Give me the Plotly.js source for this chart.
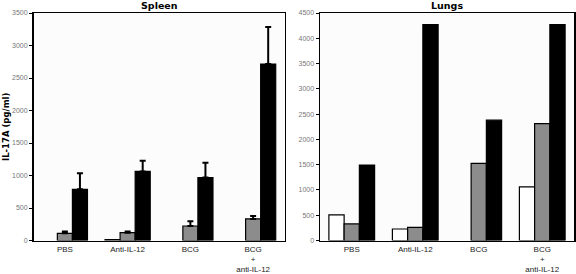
<!DOCTYPE html>
<html>
<head>
<meta charset="utf-8">
<script src="https://cdn.plot.ly/plotly-3.0.1.min.js"></script>
<style>html,body{margin:0;padding:0;background:#fff;}#chart{width:576px;height:274px;}</style>
</head>
<body>
<div id="chart"></div>
<script>
var categories = ["PBS", "Anti-IL-12", "BCG", "BCG<br>+<br>anti-IL-12"];
var spleenWhite = [null, 12, null, null];
var spleenGray = [110, 120, 223, 332];
var spleenGrayErr = [30, 20, 72, 46];
var spleenBlack = [787, 1062, 969, 2715];
var spleenBlackErr = [249, 166, 228, 570];
var lungsWhite = [507, 227, null, 1060];
var lungsGray = [327, 260, 1527, 2313];
var lungsBlack = [1493, 4270, 2380, 4270];
var spleenTicks = [0, 500, 1000, 1500, 2000, 2500, 3000, 3500];
var lungsTicks = [0, 500, 1000, 1500, 2000, 2500, 3000, 3500, 4000, 4500];

function bar(x, y, color, xa, ya, err) {
  var t = {
    type: 'bar', x: x, y: y, xaxis: xa, yaxis: ya,
    marker: {color: color, line: {color: '#000', width: 1.2}},
    showlegend: false, hoverinfo: 'none'
  };
  if (err) {
    t.error_y = {type: 'data', symmetric: false, array: err,
      arrayminus: err.map(function(){return 0;}), color: '#000', thickness: 2, width: 3};
  }
  return t;
}

var data = [
  bar(categories, spleenWhite, '#ffffff', 'x', 'y'),
  bar(categories, spleenGray, '#8c8c8c', 'x', 'y', spleenGrayErr),
  bar(categories, spleenBlack, '#000000', 'x', 'y', spleenBlackErr),
  bar(categories, lungsWhite, '#ffffff', 'x2', 'y2'),
  bar(categories, lungsGray, '#8c8c8c', 'x2', 'y2'),
  bar(categories, lungsBlack, '#000000', 'x2', 'y2')
];

var yd = [1 - 240.5/274, 1 - 13/274];
var tickfont = {family: 'Liberation Sans, Arial, sans-serif', size: 7, color: '#777'};
var catfont = {family: 'Liberation Sans, Arial, sans-serif', size: 8, color: '#222'};

function xax(dom, anchor) {
  return {domain: dom, anchor: anchor, showline: true, linecolor: '#000', linewidth: 1.5,
    mirror: true, ticks: '', tickfont: catfont, showgrid: false, zeroline: false, fixedrange: true};
}
function yax(range, ticks, anchor) {
  return {domain: yd, anchor: anchor, range: range, tickvals: ticks, ticktext: ticks.map(String),
    showline: true, linecolor: '#000', linewidth: 1.5, mirror: true,
    ticks: 'outside', ticklen: 3, tickwidth: 1, tickcolor: '#000', tickfont: tickfont,
    showgrid: false, zeroline: false, fixedrange: true};
}

var titleFont = {family: 'DejaVu Sans, Verdana, sans-serif', size: 9.5, color: '#000'};
var layout = {
  width: 576, height: 274,
  margin: {l: 0, r: 0, t: 0, b: 0},
  paper_bgcolor: '#ffffff', plot_bgcolor: '#fcfcfc',
  barmode: 'group', bargap: 0.28, bargroupgap: 0,
  xaxis: xax([33.5/576, 284.5/576], 'y'),
  yaxis: yax([0, 3500], spleenTicks, 'x'),
  xaxis2: xax([320/576, 574/576], 'y2'),
  yaxis2: yax([0, 4500], lungsTicks, 'x2'),
  annotations: [
    {text: '<b>Spleen</b>', xref: 'paper', yref: 'paper', x: 159/576, y: 1 - 6/274,
      xanchor: 'center', yanchor: 'middle', showarrow: false, font: titleFont},
    {text: '<b>Lungs</b>', xref: 'paper', yref: 'paper', x: 447/576, y: 1 - 6/274,
      xanchor: 'center', yanchor: 'middle', showarrow: false, font: titleFont},
    {text: '<b>IL-17A (pg/ml)</b>', xref: 'paper', yref: 'paper', x: 6/576, y: 1 - 127/274,
      xanchor: 'center', yanchor: 'middle', textangle: -90, showarrow: false,
      font: {family: 'DejaVu Sans, Verdana, sans-serif', size: 8.5, color: '#000'}}
  ]
};

Plotly.newPlot('chart', data, layout, {displayModeBar: false, staticPlot: true});
</script>
</body>
</html>
